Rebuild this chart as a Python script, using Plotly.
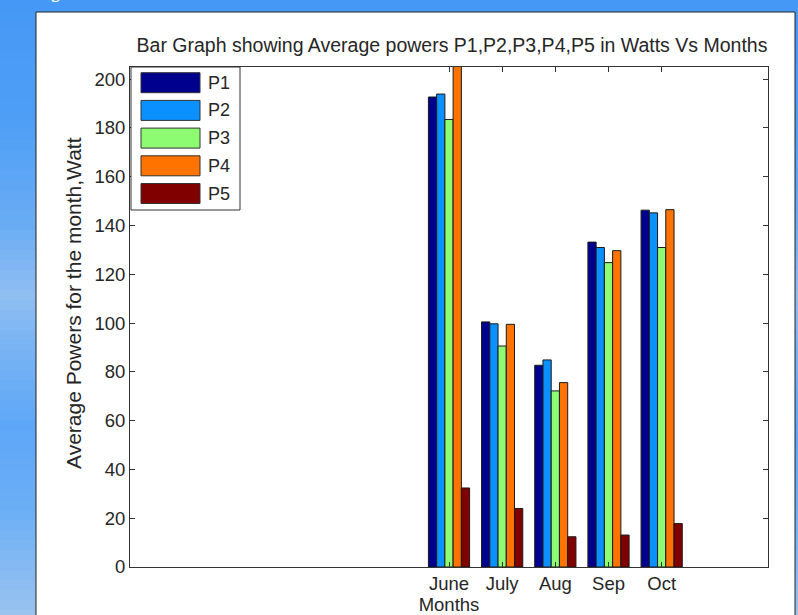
import plotly.graph_objects as go

# ---- data ----
months = ["June", "July", "Aug", "Sep", "Oct"]
month_num = [6, 7, 8, 9, 10]
series_names = ["P1", "P2", "P3", "P4", "P5"]
P1 = [192.7, 100.5, 82.7, 133.2, 146.3]
P2 = [193.9, 99.7, 84.9, 131.0, 145.2]
P3 = [183.5, 90.6, 72.2, 124.8, 131.0]
P4 = [215.0, 99.5, 75.6, 129.7, 146.5]
P5 = [32.4, 24.0, 12.4, 13.1, 17.8]
y_ticks = [0, 20, 40, 60, 80, 100, 120, 140, 160, 180, 200]

series_values = [P1, P2, P3, P4, P5]
colors = ["#00008f", "#0a90ff", "#8dfc72", "#ff7300", "#800000"]

FONT = "Liberation Sans, Arial, sans-serif"
TXT = "#262626"

# plot-area pixel geometry (used for paper-coordinate decorations)
W, H = 798, 615
L, R, T, B = 130, 30, 67, 48
PW, PH = W - L - R, H - T - B


def px_x(p):
    return (p - L) / PW


def px_y(p):
    return (H - B - p) / PH


def hex_to_rgb(h):
    h = h.lstrip("#")
    return tuple(int(h[i:i + 2], 16) for i in (0, 2, 4))


fig = go.Figure()
for name, vals, col in zip(series_names, series_values, colors):
    fig.add_trace(go.Bar(
        x=month_num, y=vals, name=name,
        marker=dict(color=col, line=dict(color="#1a1a1a", width=1)),
        showlegend=False,
    ))

shapes = []
annotations = []

# background blue gradient (decoration), smooth bands between colour stops
stops = [(0, "#4598f5"), (120, "#4f9ff6"), (220, "#6aacf4"), (290, "#8fbef2"),
         (340, "#7ab4f4"), (420, "#5ea7f8"), (500, "#6aaef6"), (615, "#9cc4f0")]
step = 10
for k in range(0, H, step):
    for i in range(len(stops) - 1):
        if stops[i][0] <= k < stops[i + 1][0]:
            a, ca = stops[i]
            b, cb = stops[i + 1]
            t = (k - a) / (b - a)
            ra, rb = hex_to_rgb(ca), hex_to_rgb(cb)
            rgb = tuple(round(ra[j] + (rb[j] - ra[j]) * t) for j in range(3))
            shapes.append(dict(type="rect", xref="paper", yref="paper",
                               x0=px_x(0), x1=px_x(W), y0=px_y(k + step + 1), y1=px_y(k),
                               fillcolor="rgb(%d,%d,%d)" % rgb, line=dict(width=0),
                               layer="below"))
            break

# white panel
shapes.append(dict(type="rect", xref="paper", yref="paper",
                   x0=px_x(36), x1=px_x(795), y0=px_y(H + 5), y1=px_y(12),
                   fillcolor="white", line=dict(color="#222222", width=1),
                   layer="below"))

# manual legend (MATLAB style)
shapes.append(dict(type="rect", xref="paper", yref="paper",
                   x0=px_x(131), x1=px_x(240), y0=px_y(210), y1=px_y(67),
                   fillcolor="white", line=dict(color="#333333", width=1),
                   layer="above"))
for i, (name, col) in enumerate(zip(series_names, colors)):
    cy = 82.7 + i * 27.7
    shapes.append(dict(type="rect", xref="paper", yref="paper",
                       x0=px_x(141), x1=px_x(200), y0=px_y(cy + 10), y1=px_y(cy - 10),
                       fillcolor=col, line=dict(color="#333333", width=1),
                       layer="above"))
    annotations.append(dict(text=name, xref="paper", yref="paper",
                            x=px_x(206), y=px_y(cy), xanchor="left", yanchor="middle",
                            showarrow=False, font=dict(family=FONT, size=18, color=TXT)))

# y-axis title (placed as in the reference)
annotations.append(dict(text="Average Powers for the month,Watt", xref="paper", yref="paper",
                        x=px_x(73), y=px_y(303), xanchor="center", yanchor="middle",
                        textangle=-90, showarrow=False,
                        font=dict(family=FONT, size=21, color=TXT)))

# "Figure 1" caption (cut off at top in the reference)
annotations.append(dict(text="Figure 1", xref="paper", yref="paper",
                        x=px_x(37), y=px_y(5), xanchor="left", yanchor="bottom",
                        showarrow=False, font=dict(family="Open Sans", size=16, color="white")))

fig.update_layout(
    width=W, height=H,
    margin=dict(l=L, r=R, t=T, b=B, autoexpand=False),
    paper_bgcolor="#4f9ff6",
    plot_bgcolor="white",
    barmode="group",
    bargap=0.225,
    bargroupgap=0,
    font=dict(family=FONT, size=18.5, color=TXT),
    title=dict(text="Bar Graph showing Average powers P1,P2,P3,P4,P5 in Watts Vs Months",
               xref="paper", x=px_x(452), xanchor="center",
               yref="container", y=1 - 45 / H, yanchor="middle",
               font=dict(family=FONT, size=19.5, color=TXT)),
    shapes=shapes,
    annotations=annotations,
    xaxis=dict(range=[0, 12], tickvals=month_num, ticktext=months,
               showgrid=False, zeroline=False, showline=True, mirror="ticks",
               linecolor="#333333", linewidth=1, ticks="inside", ticklen=5,
               tickcolor="#333333",
               title=dict(text="Months", standoff=7, font=dict(size=18.5))),
    yaxis=dict(range=[0, 205], tickvals=y_ticks,
               showgrid=False, zeroline=False, showline=True, mirror="ticks",
               linecolor="#333333", linewidth=1, ticks="inside", ticklen=5,
               tickcolor="#333333"),
)

fig.write_html("out.html", config={"displayModeBar": False},
               post_script="document.body.style.margin='0';document.body.style.overflow='hidden';")
